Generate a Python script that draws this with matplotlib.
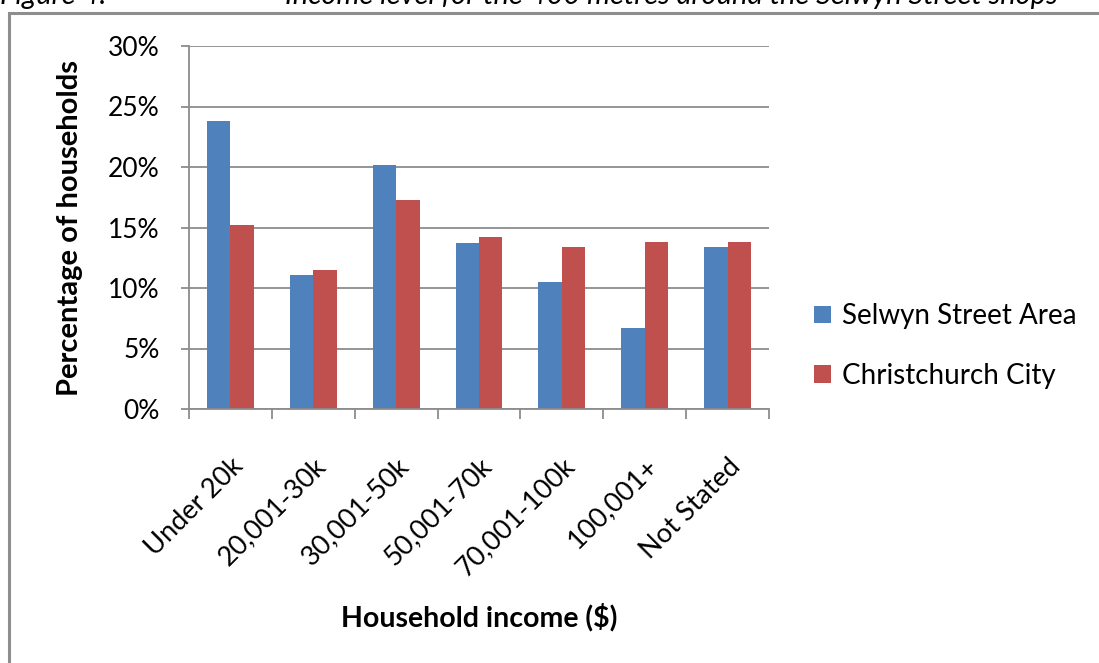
import numpy as np
import matplotlib
matplotlib.use("Agg")
import matplotlib.pyplot as plt
from matplotlib.patches import Rectangle, Patch
from matplotlib.ticker import PercentFormatter

# data (percent of households)
categories = ["Under 20k", "20,001-30k", "30,001-50k", "50,001-70k",
              "70,001-100k", "100,001+", "Not Stated"]
selwyn = [23.8, 11.1, 20.2, 13.7, 10.5, 6.7, 13.4]
christchurch = [15.2, 11.5, 17.3, 14.2, 13.4, 13.8, 13.8]
series_names = ["Selwyn Street Area", "Christchurch City"]
yticks = [0, 5, 10, 15, 20, 25, 30]

BLUE = "#4F81BD"
RED = "#C0504D"
GRID = "#8C8C8C"

plt.rcParams['font.family'] = ['Lato', 'DejaVu Sans']

W, H = 1099, 663
fig = plt.figure(figsize=(W / 100, H / 100), dpi=100)
fig.patch.set_facecolor("white")

# outer chart frame (only left and top edges are visible in the crop)
frame = Rectangle((9 / W, -0.2), 1.5, (H - 13) / H + 0.2, transform=fig.transFigure,
                  facecolor="none", edgecolor="#8E8E8E", linewidth=2.2, zorder=0)
fig.patches.append(frame)

# clipped caption above the chart
fig.text(0 / W, 1 - 4 / H, "Figure 4:", fontsize=21, style="italic",
         va="baseline", ha="left", color="black")
fig.text(285 / W, 1 - 4 / H, "Income level for the 400 metres around the Selwyn Street shops",
         fontsize=21, style="italic", va="baseline", ha="left", color="black")

ax = fig.add_axes([189 / W, 1 - 409 / H, 580 / W, 363 / H])
ax.set_facecolor("none")

x = np.arange(len(categories))
w = 0.2835
ax.bar(x - w / 2, selwyn, w, color=BLUE, zorder=3, label=series_names[0])
ax.bar(x + w / 2, christchurch, w, color=RED, zorder=3, label=series_names[1])

ax.set_xlim(-0.5, len(categories) - 0.5)
ax.set_ylim(0, 30)
ax.set_yticks(yticks)
ax.yaxis.set_major_formatter(PercentFormatter(decimals=0))
ax.grid(axis="y", color=GRID, linewidth=1.3, zorder=1)

for s in ["top", "right"]:
    ax.spines[s].set_visible(False)
for s in ["left", "bottom"]:
    ax.spines[s].set_color(GRID)
    ax.spines[s].set_linewidth(1.3)
    ax.spines[s].set_zorder(4)

# x ticks sit between categories, labels at centres
ax.set_xticks(np.arange(-0.5, len(categories)), minor=False)
ax.set_xticklabels([])
ax.set_xticks(x, minor=True)
ax.set_xticklabels(categories, minor=True, rotation=45, ha="right",
                   rotation_mode="anchor", fontsize=19.5)
ax.tick_params(axis="x", which="major", length=7, width=1.3, color=GRID, direction="out")
ax.tick_params(axis="x", which="minor", length=0, pad=32)
ax.tick_params(axis="y", length=6, width=1.3, color=GRID, direction="out",
               labelsize=19, pad=15)

ax.set_ylabel("Percentage of households", fontsize=21, fontweight="bold", va="center")
ax.yaxis.set_label_coords(-0.206, 0.5)
ax.set_xlabel("Household income ($)", fontsize=20.5, fontweight="bold", va="center")
ax.xaxis.set_label_coords(0.5, -0.573)

handles = [Patch(facecolor=BLUE), Patch(facecolor=RED)]
fig.legend(handles, series_names, loc="center left",
           bbox_to_anchor=(789 / W, 1 - 346 / H), frameon=False, fontsize=20,
           handlelength=0.6, handleheight=0.6, handletextpad=0.4, labelspacing=1.2)

fig.savefig("out.png", dpi=100)
